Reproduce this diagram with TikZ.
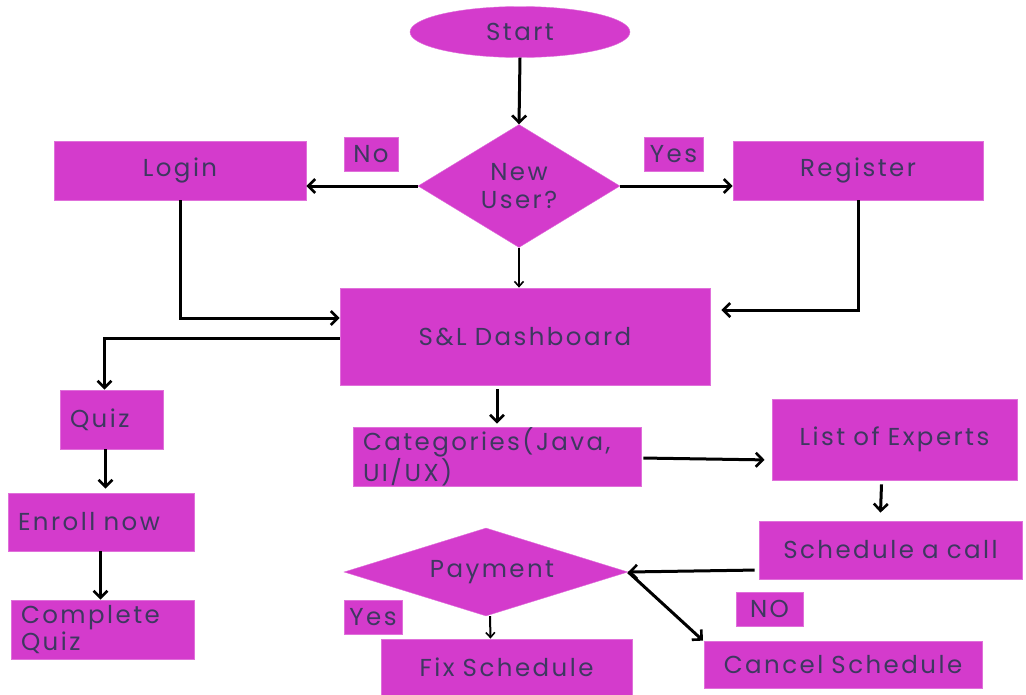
\documentclass[tikz,border=0pt]{standalone}
\usepackage{fontspec}
\setmainfont[LetterSpace=10]{Poppins}
\usetikzlibrary{shapes.geometric,arrows.meta}
\definecolor{boxfill}{HTML}{D43BCC}
\definecolor{boxedge}{HTML}{E070DA}
\definecolor{ink}{HTML}{3E3860}
\tikzset{
  every node/.style={font=\fontsize{24.5}{27.5}\selectfont, text=ink},
  flowbox/.style={rectangle, fill=boxfill, draw=boxedge, line width=0.8pt,
    inner xsep=10pt, inner ysep=0pt},
  tagbox/.style={rectangle, fill=boxfill, draw=boxedge, line width=0.8pt,
    inner sep=0pt},
  arr/.style={draw=black, line width=3pt, -{Straight Barb[length=7pt,width=14pt,line width=2.6pt]}},
  thinarr/.style={draw=black, line width=1.6pt, -{Straight Barb[length=5pt,width=9pt,line width=1.6pt]}},
}
\begin{document}
\begin{tikzpicture}[x=1pt,y=-1pt]
\useasboundingbox (0,0) rectangle (1026,694);

% entry and first decision
\node[ellipse, fill=boxfill, draw=boxedge, minimum width=220pt, minimum height=51pt, inner sep=0pt] (start) at (520,32) {Start};
\node[diamond, fill=boxfill, draw=boxedge, minimum width=202pt, minimum height=123pt, inner sep=0pt, align=center] (newuser) at (519,186) {New\\User?};

\node[flowbox, text width=232pt, minimum height=59pt, align=center] (login) at (180,170.5) {Login};
\node[flowbox, text width=230pt, minimum height=59pt, align=center] (register) at (858,170.5) {Register};
\node[tagbox, minimum width=54pt, minimum height=34pt] (no1) at (371,154) {No};
\node[tagbox, minimum width=59pt, minimum height=34pt] (yes1) at (673.5,154) {Yes};

\node[flowbox, text width=350pt, minimum height=97pt, align=center] (dash) at (525,336.5) {S\&L Dashboard};

% quiz branch
\node[flowbox, text width=83pt, minimum height=59pt, align=left] (quiz) at (111.5,419.5) {Quiz};
\node[flowbox, text width=166pt, minimum height=58pt, align=left] (enroll) at (101,522) {Enroll now};
\node[flowbox, text width=163pt, minimum height=59pt, align=left] (complete) at (102.5,629.5) {Complete\\Quiz};

% expert branch
\node[flowbox, text width=268pt, minimum height=59pt, align=left] (cat) at (497,456.5) {Categories(Java,\\UI/UX)};
\node[flowbox, text width=225pt, minimum height=81pt, align=center] (experts) at (894.5,439.5) {List of Experts};
\node[flowbox, text width=243pt, minimum height=58pt, align=center] (sched) at (890.5,550) {Schedule a call};
\node[diamond, fill=boxfill, draw=boxedge, minimum width=284pt, minimum height=88pt, inner sep=0pt] (pay) at (486,572) {};
\node (paytext) at (492,572) {Payment};
\node[tagbox, minimum width=58pt, minimum height=34pt] (yes2) at (373,617) {Yes};
\node[tagbox, minimum width=67pt, minimum height=34pt] (no2) at (769.5,609) {NO};
\node[flowbox, text width=231pt, minimum height=56pt, align=center] (fix) at (506.5,667) {Fix Schedule};
\node[flowbox, text width=258pt, minimum height=47pt, align=center] (cancel) at (843,664.5) {Cancel Schedule};

% connectors
\draw[arr] (start.south) -- (newuser.north);
\draw[arr] (newuser.west) -- (login.east |- newuser.west);
\draw[arr] (newuser.east) -- (register.west |- newuser.east);
\draw[thinarr] (newuser.south) -- (dash.north -| newuser.south);
\draw[arr] (login.south) |- (dash.west |- 0,318);
\draw[arr, shorten >=11pt] (register.south) |- (dash.east |- 0,310);
\draw[arr] (dash.west |- 0,338) -| ([xshift=-7pt]quiz.north);
\draw[arr] ([xshift=-6pt]quiz.south) coordinate (q1) -- ([yshift=4pt]enroll.north -| q1);
\draw[arr] ([xshift=-2pt]enroll.south -| complete.north) -- ([xshift=-2pt]complete.north);
\draw[arr] ([yshift=-4pt]cat.north |- dash.south) -- ([yshift=3pt]cat.north);
\draw[arr, shorten <=2pt, shorten >=7pt] (cat.east |- 0,458) -- (experts.west |- 0,460);
\draw[arr] ([xshift=-13pt,yshift=-4pt]experts.south) -- ([xshift=-10pt,yshift=8pt]sched.north);
\draw[arr, shorten <=4pt] ([yshift=-20pt]sched.west) -- (pay.east);
\draw[arr] (pay.east) -- ([xshift=-140pt]cancel.north);
\draw[thinarr, line width=2pt] ([xshift=4pt]pay.south) -- ([xshift=-16pt]fix.north);
\end{tikzpicture}
\end{document}
